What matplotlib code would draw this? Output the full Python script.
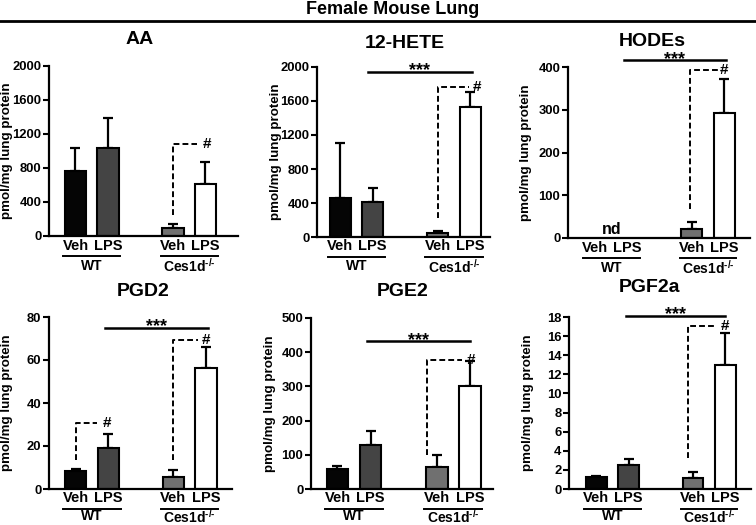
import matplotlib
matplotlib.use("Agg")
import matplotlib.pyplot as plt
import matplotlib.transforms as mtransforms

plt.rcParams['font.family'] = ['Liberation Sans', 'DejaVu Sans']
plt.rcParams['font.weight'] = 'bold'
plt.rcParams['mathtext.fontset'] = 'custom'
plt.rcParams['mathtext.rm'] = 'Liberation Sans:bold'
plt.rcParams['mathtext.bf'] = 'Liberation Sans:bold'
plt.rcParams['mathtext.default'] = 'bf'

W, H = 756, 525

panel_names = ["AA", "12-HETE", "HODEs", "PGD2", "PGE2", "PGF2a"]
bar_labels = ["Veh", "LPS", "Veh", "LPS"]
group_labels = ["WT", r"Ces1d$^{\text{-/-}}$"]
bar_colors = ["#050505", "#444444", "#707070", "#ffffff"]

means = {
    "AA":      [760, 1040, 100, 615],
    "12-HETE": [455, 410, 50, 1530],
    "HODEs":   [None, None, 22, 292],
    "PGD2":    [8.5, 19, 5.5, 56.5],
    "PGE2":    [58, 128, 65, 302],
    "PGF2a":   [1.3, 2.5, 1.2, 13.0],
}
err_tops = {
    "AA":      [1040, 1390, 140, 865],
    "12-HETE": [1100, 575, 65, 1700],
    "HODEs":   [None, None, 37, 372],
    "PGD2":    [9.5, 25.5, 9, 66],
    "PGE2":    [66, 170, 100, 375],
    "PGF2a":   [1.4, 3.1, 1.8, 16.3],
}
yticks = {
    "AA":      [0, 400, 800, 1200, 1600, 2000],
    "12-HETE": [0, 400, 800, 1200, 1600, 2000],
    "HODEs":   [0, 100, 200, 300, 400],
    "PGD2":    [0, 20, 40, 60, 80],
    "PGE2":    [0, 100, 200, 300, 400, 500],
    "PGF2a":   [0, 2, 4, 6, 8, 10, 12, 14, 16, 18],
}
# significance line: (x0, x1, y)
sig_lines = {
    "12-HETE": (1.85, 5.05, 1940),
    "HODEs":   (1.88, 5.05, 416),
    "PGD2":    (1.9, 5.05, 75),
    "PGE2":    (1.9, 5.0, 432),
    "PGF2a":   (1.92, 5.0, 18.1),
}
# dashed '#' brackets: (x_start, x_dash_end, x_hash, y_start, y_top)
brackets = {
    "AA":      [(4.0, 4.75, 5.05, 250, 1080)],
    "12-HETE": [(4.0, 4.95, 5.2, 220, 1770)],
    "HODEs":   [(3.95, 4.8, 5.0, 68, 393)],
    "PGD2":    [(1.0, 1.65, 1.95, 13.5, 30.5), (4.0, 4.75, 5.0, 13.5, 69.3)],
    "PGE2":    [(3.7, 4.75, 5.05, 100, 378)],
    "PGF2a":   [(3.85, 4.75, 5.0, 3.24, 17.1)],
}

# layout (pixels): left, right, top, bottom, xlim, title x, title y
layout = {
    "AA":      (49, 238, 66, 236, (0.185, 6.0), 140, 40),
    "12-HETE": (317, 490, 67, 237, (0.29, 5.6), 405, 43),
    "HODEs":   (568, 750, 67, 238, (0.16, 5.8), 652, 41),
    "PGD2":    (49, 232, 317, 489, (0.18, 5.8), 143, 292),
    "PGE2":    (311, 493, 318, 489, (0.2, 5.7), 403, 292),
    "PGF2a":   (569, 751, 317, 489, (0.15, 5.8), 650, 288),
}

positions = [1, 2, 4, 5]

fig = plt.figure(figsize=(W / 100, H / 100), dpi=100)

def fy(ypx):
    return 1 - ypx / H

fig.text(393 / W, fy(10), "Female Mouse Lung", ha="center", va="center",
         fontsize=13, fontweight="bold")
fig.add_artist(plt.Line2D([0, 1], [fy(20.5), fy(20.5)], color="black", lw=2,
                          transform=fig.transFigure))

for name in panel_names:
    l, r, t, b, xl, tx, ty = layout[name]
    ax = fig.add_axes([l / W, fy(b), (r - l) / W, (b - t) / H])
    yt = yticks[name]
    ax.set_ylim(0, yt[-1])
    ax.set_xlim(*xl)
    ax.set_yticks(yt)
    ax.set_yticklabels([str(v) for v in yt], fontsize=9.4, fontweight="bold")
    ax.set_xticks([])
    for s in ["top", "right"]:
        ax.spines[s].set_visible(False)
    for s in ["left", "bottom"]:
        ax.spines[s].set_linewidth(1.6)
    ax.tick_params(axis="y", direction="out", length=4, width=1.5, pad=1.5)
    ax.set_ylabel("pmol/mg lung protein", fontsize=9.6, fontweight="bold")
    ax.yaxis.set_label_coords(-35.5 / (r - l), 0.5)

    m = means[name]
    e = err_tops[name]
    for i, (p, mv, ev) in enumerate(zip(positions, m, e)):
        if mv is None:
            continue
        ax.errorbar(p, mv, yerr=[[0], [ev - mv]], fmt="none", ecolor="black",
                    elinewidth=1.6, capsize=3.5, capthick=1.6, zorder=1)
        ax.bar(p, mv, width=0.65, color=bar_colors[i], edgecolor="black",
               linewidth=1.5, zorder=2)

    if name == "HODEs":
        ax.text(1.5, 20, "nd", ha="center", va="center", fontsize=11.5,
                fontweight="bold")

    fig.text(tx / W, fy(ty), name, ha="center", va="center", fontsize=14,
             fontweight="bold")

    if name in sig_lines:
        x0, x1, yv = sig_lines[name]
        ax.plot([x0, x1], [yv, yv], color="black", lw=1.8, clip_on=False)
        ax.annotate("***", xy=((x0 + x1) / 2, yv), xytext=(0, -2.5),
                    textcoords="offset points", ha="center", va="baseline",
                    fontsize=13, fontweight="bold", annotation_clip=False)

    for (xs, xe, xh, y0, y1) in brackets[name]:
        ax.plot([xs, xs, xe], [y0, y1, y1], color="black", lw=1.4,
                ls=(0, (3, 1.6)), clip_on=False)
        ax.text(xh, y1, "#", ha="center", va="center", fontsize=11,
                fontweight="bold", clip_on=False)

    trans = mtransforms.blended_transform_factory(ax.transData, fig.transFigure)
    for p, lab in zip(positions, bar_labels):
        ax.text(p, fy(b + 9.5), lab, ha="center", va="center", fontsize=10.5,
                fontweight="bold", transform=trans)
    for (ga, gb), glab in zip([(0.62, 2.38), (3.62, 5.38)], group_labels):
        ax.plot([ga, gb], [fy(b + 19.5), fy(b + 19.5)], color="black", lw=1.4,
                transform=trans, clip_on=False)
        ax.text((ga + gb) / 2, fy(min(b + 29.5, 516.5)), glab, ha="center",
                va="center", fontsize=10, fontweight="bold", transform=trans)

fig.savefig("out.png", dpi=100)
